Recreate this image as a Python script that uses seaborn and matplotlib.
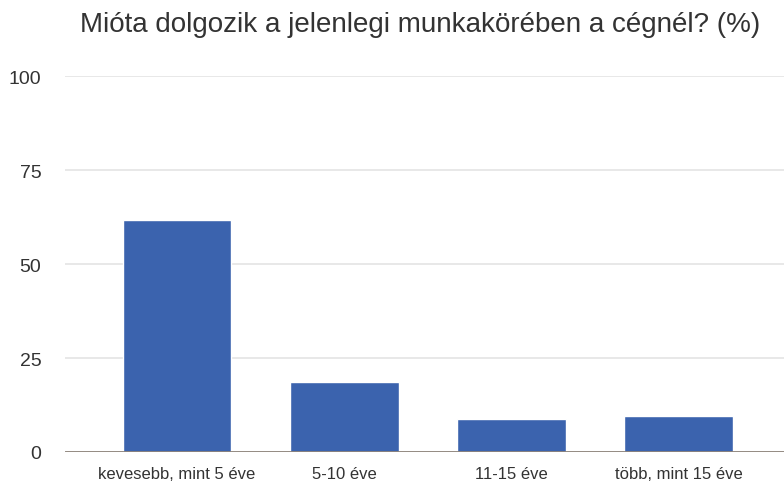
import matplotlib
matplotlib.use("Agg")
import matplotlib.pyplot as plt
import seaborn as sns
import pandas as pd

categories = ["kevesebb, mint 5 éve", "5-10 éve", "11-15 éve", "több, mint 15 éve"]
values = [61.7, 18.6, 8.8, 9.6]
yticks = [0, 25, 50, 75, 100]

df = pd.DataFrame({"cat": categories, "val": values})

sns.set_theme(style="white")
plt.rcParams["font.family"] = ["Liberation Sans", "DejaVu Sans"]

fig = plt.figure(figsize=(7.84, 4.85), dpi=100)
ax = fig.add_axes([0.083, 0.066, 0.917, 0.775])

sns.barplot(data=df, x="cat", y="val", color="#3b63ae", width=0.65,
            saturation=1, ax=ax, zorder=3)

ax.set_ylim(0, 100)
ax.set_xlim(-0.67, 3.63)
ax.set_yticks(yticks)
ax.yaxis.grid(True, color="#e4e4e4", linewidth=1.2, zorder=0)
ax.axhline(0, color="#8c8279", linewidth=2, zorder=4)
for s in ax.spines.values():
    s.set_visible(False)
ax.tick_params(axis="y", length=0, pad=17, labelsize=14, labelcolor="#333333")
ax.tick_params(axis="x", length=0, pad=10, labelsize=12, labelcolor="#333333")
ax.set_xlabel("")
ax.set_ylabel("")

fig.suptitle("Mióta dolgozik a jelenlegi munkakörében a cégnél? (%)",
             x=0.536, y=0.975, fontsize=20, color="#333333")

fig.savefig("out.png", dpi=100)
